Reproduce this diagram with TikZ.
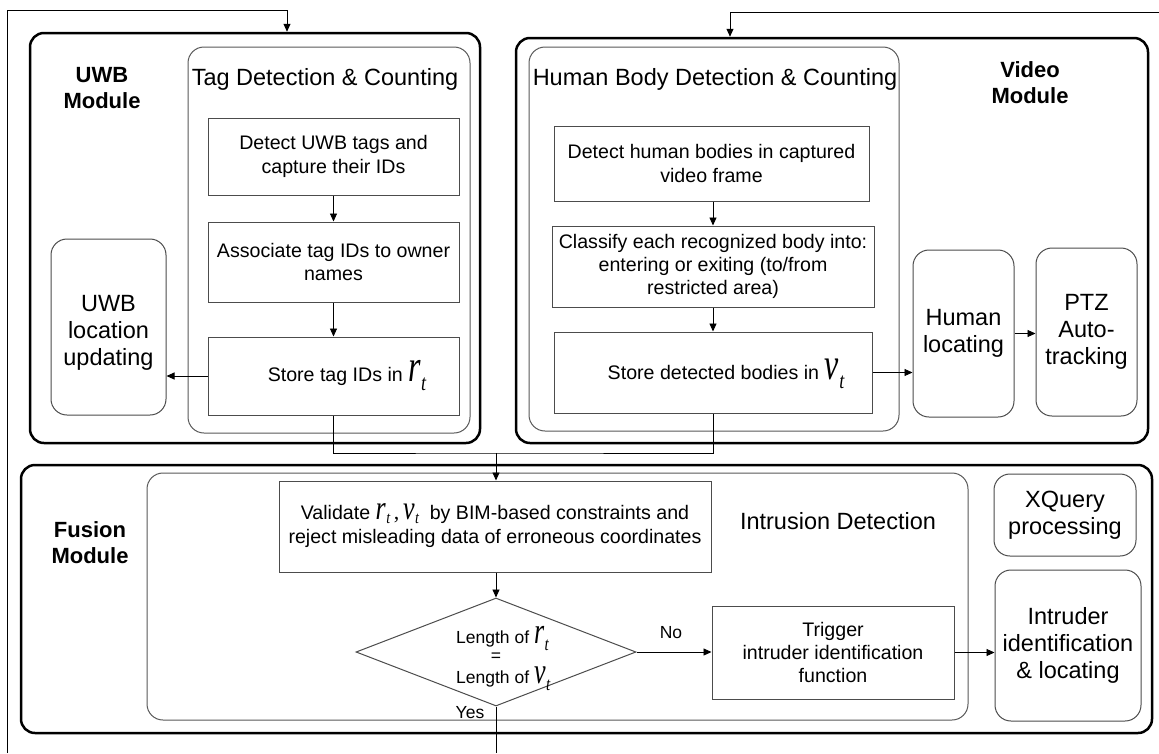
\documentclass[tikz,border=0pt]{standalone}
\usepackage{fontspec}
\usepackage{graphicx}
\setmainfont{Liberation Sans}
\newfontfamily\tnr{Liberation Serif}
\usetikzlibrary{arrows.meta,shapes.geometric,calc}

\newcommand{\fsBox}{\fontsize{19.6pt}{23.3pt}\selectfont}
\newcommand{\fsBig}{\fontsize{23.5pt}{27pt}\selectfont}
\newcommand{\fsMod}{\fontsize{22pt}{26pt}\selectfont\bfseries}
\newcommand{\fsSm}{\fontsize{17.5pt}{21pt}\selectfont}
\newcommand{\bigv}[2]{{\tnr\itshape\fontsize{32pt}{32pt}\selectfont\smash{\scalebox{1}[1.4]{#1}}\kern0.5pt\raisebox{-9pt}[0pt][0pt]{\fontsize{18pt}{18pt}\selectfont\scalebox{1}[1.25]{#2}}}}
\newcommand{\smv}[2]{{\tnr\itshape\fontsize{26pt}{26pt}\selectfont\smash{\scalebox{1}[1.4]{#1}}\kern0.5pt\raisebox{-7pt}[0pt][0pt]{\fontsize{15pt}{15pt}\selectfont\scalebox{1}[1.25]{#2}}}}
\newcommand{\vlv}[2]{{\tnr\itshape\fontsize{26pt}{26pt}\selectfont\smash{\scalebox{1}[1.3]{#1}}\kern0.5pt\raisebox{-4.5pt}[0pt][0pt]{\fontsize{14pt}{14pt}\selectfont\scalebox{1}[1.2]{#2}}}}

\begin{document}
\begin{tikzpicture}[x=1pt,y=-1pt,
  module/.style={draw=black, line width=2.5pt, rounded corners=14pt, inner sep=0pt},
  grp/.style={draw=black!65, line width=1pt, rounded corners=16pt, inner sep=0pt},
  proc/.style={draw=black!70, line width=1pt, inner sep=2pt, align=center, font=\fsBox},
  rbox/.style={draw=black!70, line width=1pt, rounded corners=16pt, inner sep=2pt, align=center, font=\fsBig},
  lbl/.style={inner sep=0pt, align=center},
  arr/.style={-{Triangle[length=8pt,width=7pt]}, line width=0.9pt},
  conn/.style={line width=0.9pt}]

\useasboundingbox[fill=white] (0,0) rectangle (1159,753);

% ---------- UWB module ----------
\node[module, minimum width=450pt, minimum height=410pt] (uwb) at (255,238) {};
\node[grp, minimum width=282pt, minimum height=386pt] (tag) at (329,240) {};
\node[lbl, font=\fsBig] (tagt) at (325,79) {Tag Detection \& Counting};
\node[lbl, font=\fsMod] (uwbl) at (102,88) {UWB\\Module};
\node[proc, minimum width=251pt, minimum height=77pt] (u1) at (333.5,156.5) {Detect UWB tags and\\capture their IDs};
\node[proc, minimum width=251pt, minimum height=80pt] (u2) at (333.5,262) {Associate tag IDs to owner\\names};
\node[proc, minimum width=251pt, minimum height=78pt] (u3) at (333.5,376) {\hspace*{27pt}Store tag IDs in \bigv{r}{t}};
\node[rbox, minimum width=115pt, minimum height=176pt] (uloc) at (108.5,327) {};
\node[lbl, font=\fsBig] (uloct) at (108.5,333) {UWB\\location\\updating};

% ---------- Video module ----------
\node[module, minimum width=632pt, minimum height=405pt] (vid) at (832,240.5) {};
\node[grp, minimum width=370pt, minimum height=384pt] (hb) at (714,239) {};
\node[lbl, font=\fsBig] (hbt) at (715,79) {Human Body Detection \& Counting};
\node[lbl, font=\fsMod] (vidl) at (1030,83) {Video\\Module};
\node[proc, minimum width=315pt, minimum height=75pt] (v1) at (711.5,163.5) {Detect human bodies in captured\\video frame};
\node[proc, minimum width=322pt, minimum height=81pt] (v2) at (713,266.5) {Classify each recognized body into:\\entering or exiting (to/from\\restricted area)};
\node[proc, minimum width=318pt, minimum height=81pt] (v3) at (713,372.5) {\hspace*{26pt}Store detected bodies in \bigv{v}{t}};
\node[rbox, minimum width=101pt, minimum height=167pt] (hloc) at (963.5,333.5) {Human\\locating};
\node[rbox, minimum width=101pt, minimum height=168pt] (ptz) at (1086.5,332) {PTZ\\Auto-\\tracking};

% ---------- Fusion module ----------
\node[module, minimum width=1131pt, minimum height=268pt] (fus) at (586.5,599) {};
\node[grp, minimum width=821pt, minimum height=247pt] (intr) at (557.5,596.5) {};
\node[lbl, font=\fsBig] (intrt) at (838,521.5) {Intrusion Detection};
\node[lbl, font=\fsMod] (fusl) at (90,543) {Fusion\\Module};
\node[proc, minimum width=432pt, minimum height=91pt] (fv) at (495,526.5) {Validate \vlv{r}{t}{\tnr\fontsize{22pt}{22pt}\selectfont\,,\,}\vlv{v}{t}\ \ by BIM-based constraints and\\[1pt]reject misleading data of erroneous coordinates};
\node[draw=black!70, line width=1pt, diamond, minimum width=280pt, minimum height=108pt, inner sep=0pt] (dia) at (496,652) {};
\node[lbl, font=\fsSm, anchor=west] (d1) at (456,638.5) {Length of \smv{r}{t}};
\node[lbl, font=\fsSm] (d2) at (496,657.5) {=};
\node[lbl, font=\fsSm, anchor=west] (d3) at (456,679) {Length of \smv{v}{t}};
\node[proc, minimum width=242pt, minimum height=93pt] (trig) at (833,652.5) {Trigger\\intruder identification\\function};
\node[rbox, minimum width=142pt, minimum height=82pt] (xq) at (1065,515) {XQuery\\processing};
\node[rbox, minimum width=146pt, minimum height=151pt] (intd) at (1068,645.5) {Intruder\\identification\\\& locating};
\node[lbl, font=\fsSm] (no) at (671,633) {No};
\node[lbl, font=\fsSm] (yes) at (470,713) {Yes};

% ---------- coordinates ----------
\coordinate (j) at (496,453);
\coordinate (fbL) at (7,753);
\coordinate (fbLt) at (287,10);
\coordinate (fbR) at (1159,12);
\coordinate (fbRt) at (730,12);
\coordinate (yesEnd) at (496,753);

% ---------- connectors ----------
\draw[arr] (u1.south) -- (u2.north);
\draw[arr] (u2.south) -- (u3.north);
\draw[arr] (u3.west) -- (u3.west -| uloc.east);
\draw[arr] (v2.north |- v1.south) -- (v2.north);
\draw[arr] (v3.north |- v2.south) -- (v3.north);
\draw[arr] (v3.east) -- (v3.east -| hloc.west);
\draw[arr] (hloc.east) -- (hloc.east -| ptz.west);
\draw[conn] (u3.south) |- (j) -| (v3.south);
\draw[arr] (j) -- (j |- fv.north);
\draw[arr] (fv.south -| dia.north) -- (dia.north);
\draw[arr] (dia.east) -- (dia.east -| trig.west);
\draw[arr] (trig.east) -- (trig.east -| intd.west);
\draw[conn] (dia.south) -- (yesEnd);
\draw[arr] (fbL) |- (fbLt) -- (fbLt |- uwb.north);
\draw[arr] (fbR) -- (fbRt) -- (fbRt |- vid.north);
\end{tikzpicture}
\end{document}
